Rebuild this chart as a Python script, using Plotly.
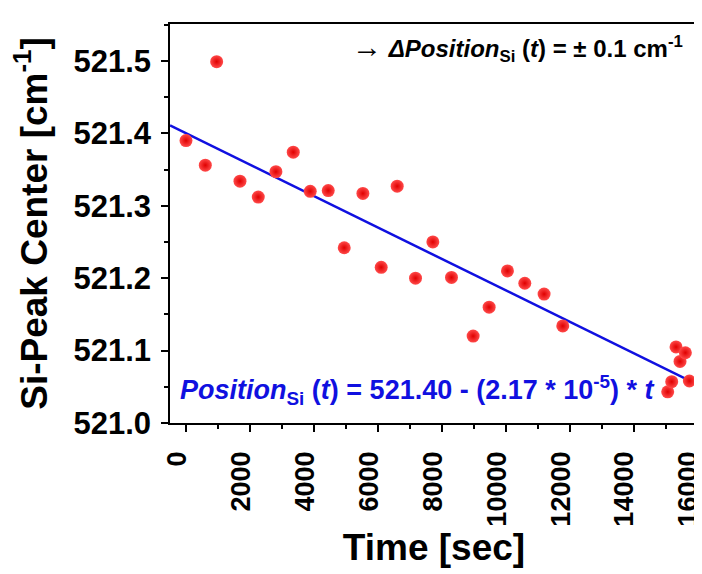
import plotly.graph_objects as go

# measured Si peak position over time
time_s = [0, 604, 959, 1688, 2260, 2812, 3354, 3885, 4448, 4948, 5531, 6104,
          6604, 7177, 7719, 8302, 8979, 9479, 10052, 10594, 11197, 11781,
          15063, 15188, 15323, 15448, 15615, 15740]
peak_center = [521.390, 521.356, 521.499, 521.334, 521.312, 521.347, 521.374,
               521.320, 521.321, 521.242, 521.317, 521.215, 521.327, 521.200,
               521.250, 521.201, 521.120, 521.160, 521.210, 521.193, 521.178,
               521.134, 521.043, 521.057, 521.105, 521.085, 521.097, 521.058]

# linear fit line end points
fit_time = [-500, 16000]
fit_center = [521.411, 521.053]

x_ticks = [0, 2000, 4000, 6000, 8000, 10000, 12000, 14000, 16000]
x_labels = ["0", "2000", "4000", "6000", "8000", "10000", "12000", "14000", "16000"]
y_ticks = [521.0, 521.1, 521.2, 521.3, 521.4, 521.5]

FONT = "Liberation Sans, Arial, sans-serif"


def main():
    fig = go.Figure()
    fig.add_trace(go.Scatter(
        x=fit_time, y=fit_center, mode="lines",
        line=dict(color="#1010e0", width=2.5),
        showlegend=False, hoverinfo="skip",
    ))
    fig.add_trace(go.Scatter(
        x=time_s, y=peak_center, mode="markers",
        marker=dict(size=13, color="#ff4a4a",
                    gradient=dict(type="radial", color="#e00000"),
                    line=dict(width=0)),
        showlegend=False,
    ))

    fig.update_xaxes(
        range=[-500, 16010],
        automargin=False,
        tickmode="array", tickvals=x_ticks, ticktext=x_labels,
        tickangle=-90, ticklabeloverflow="allow",
        ticks="outside", ticklen=7, tickwidth=1.5, tickcolor="black",
        minor=dict(dtick=1000, tick0=0, ticks="outside", ticklen=4, tickwidth=1.5, tickcolor="black"),
        ticklabelstandoff=9, ticklabelshift=-9,
        tickfont=dict(family=FONT, size=27, color="black", weight="bold"),
        showline=True, linecolor="black", linewidth=1.5, mirror=True,
        showgrid=False, zeroline=False,
        title=dict(text="Time [sec]", standoff=6,
                   font=dict(family=FONT, size=37, color="black", weight="bold")),
    )
    fig.update_yaxes(
        range=[521.0, 521.551],
        automargin=False,
        tickvals=y_ticks,
        tickformat=".1f",
        ticks="outside", ticklen=7, tickwidth=1.5, tickcolor="black",
        minor=dict(dtick=0.05, tick0=521.0, ticks="outside", ticklen=4, tickwidth=1.5, tickcolor="black"),
        ticklabelstandoff=4,
        tickfont=dict(family=FONT, size=31, color="black", weight="bold"),
        showline=True, linecolor="black", linewidth=1.5, mirror=True,
        showgrid=False, zeroline=False,
        title=dict(text="Si-Peak Center [cm<sup>-1</sup>]", standoff=16,
                   font=dict(family=FONT, size=37, color="black", weight="bold")),
    )

    fig.add_annotation(
        xref="paper", yref="paper", x=0.975, y=0.99,
        xanchor="right", yanchor="top", showarrow=False,
        text="<span style='font-size:30px'>\u2192</span> <i>\u0394Position</i><sub>Si</sub> (<i>t</i>) = \u00b1 0.1 cm<sup>-1</sup>",
        font=dict(family=FONT, size=24, color="black", weight="bold"),
    )
    fig.add_annotation(
        xref="paper", yref="paper", x=0.015, y=0.03,
        xanchor="left", yanchor="bottom", showarrow=False,
        text="<i>Position</i><sub>Si</sub> (<i>t</i>) = 521.40 - (2.17 * 10<sup>-5</sup>) * <i>t</i>",
        font=dict(family=FONT, size=27, color="#1010e0", weight="bold"),
    )

    fig.update_layout(
        width=702, height=574,
        margin=dict(l=162, r=12, t=16, b=159),
        plot_bgcolor="white", paper_bgcolor="white",
    )
    fig.write_html("out.html")


if __name__ == "__main__":
    main()
